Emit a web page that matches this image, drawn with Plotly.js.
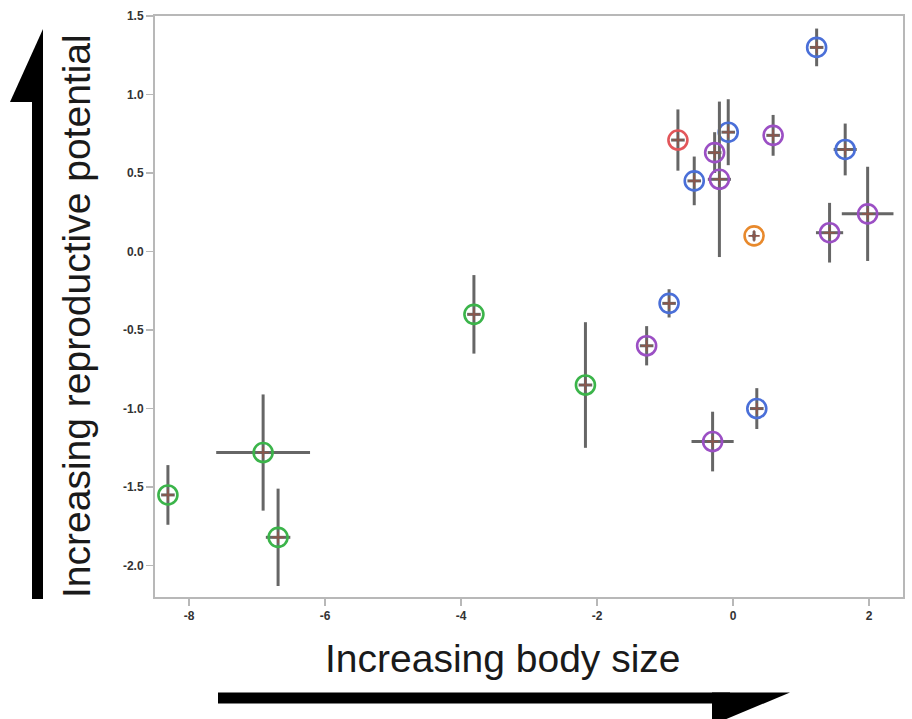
<!DOCTYPE html>
<html>
<head>
<meta charset="utf-8">
<script src="https://cdn.plot.ly/plotly-3.0.1.min.js"></script>
<style>html,body{margin:0;padding:0;background:#fff;}#chart{width:912px;height:719px;}</style>
</head>
<body>
<div id="chart"></div>
<script>
// ---- data ----
var groups = ["green", "blue", "red", "orange", "purple"];
var groupColors = ["#3bb44a", "#4a6fd8", "#e2565a", "#e8892c", "#9b4fc4"];

var pointGroup   = ["green","green","green","green","green",
                    "blue","blue","blue","blue","blue","blue",
                    "red","orange",
                    "purple","purple","purple","purple","purple","purple","purple"];
var bodySize     = [-8.31,-6.91,-6.69,-3.81,-2.17,
                    1.23,-0.07,-0.57,1.65,-0.94,0.35,
                    -0.81,0.31,
                    -0.27,-0.20,0.59,1.42,1.98,-1.27,-0.30];
var reproPotential = [-1.55,-1.28,-1.82,-0.40,-0.85,
                    1.30,0.76,0.45,0.65,-0.33,-1.00,
                    0.71,0.10,
                    0.63,0.46,0.74,0.12,0.24,-0.60,-1.21];
var bodySizeErr  = [0.10,0.69,0.18,0.10,0.10,
                    0.10,0.10,0.10,0.17,0.10,0.10,
                    0.10,0.03,
                    0.10,0.17,0.10,0.20,0.38,0.10,0.31];
var reproErr     = [0.19,0.37,0.31,0.25,0.40,
                    0.12,0.21,0.155,0.165,0.09,0.13,
                    0.195,0.03,
                    0.13,0.495,0.13,0.19,0.30,0.125,0.19];
var xTicks = [-8,-6,-4,-2,0,2];
var yTicks = [-2.0,-1.5,-1.0,-0.5,0.0,0.5,1.0,1.5];

// ---- traces ----
var traces = [];
groups.forEach(function(g, gi){
  var xs=[], ys=[], ex=[], ey=[];
  for (var i=0;i<pointGroup.length;i++){
    if (pointGroup[i]===g){ xs.push(bodySize[i]); ys.push(reproPotential[i]); ex.push(bodySizeErr[i]); ey.push(reproErr[i]); }
  }
  traces.push({
    type:"scatter", mode:"markers", x:xs, y:ys, name:g, showlegend:false,
    error_x:{type:"data", array:ex, visible:true, color:"#666666", thickness:3, width:0},
    error_y:{type:"data", array:ey, visible:true, color:"#666666", thickness:3, width:0},
    marker:{symbol:"circle-open", size:19, color:groupColors[gi], line:{width:2.6, color:groupColors[gi]}}
  });
});
traces.push({
  type:"scatter", mode:"markers", x:bodySize, y:reproPotential, showlegend:false, hoverinfo:"skip",
  marker:{symbol:"cross-thin-open", size:8, line:{width:1.6, color:"#111"}}
});

// ---- layout helpers for decorations (pixel -> paper) ----
var L=155, R=9, T=16, B=122, W=912, H=719;
function px(x){ return (x-L)/(W-L-R); }
function py(y){ return (H-B-y)/(H-T-B); }

var tickFont = {size:12, color:"#333", family:"Arial, Liberation Sans, sans-serif", weight:"bold"};

var layout = {
  width:W, height:H,
  margin:{l:L, r:R, t:T, b:B, pad:0},
  paper_bgcolor:"#fff", plot_bgcolor:"#fff",
  font:{family:"Arial, Liberation Sans, sans-serif", color:"#333"},
  xaxis:{range:[-8.5,2.5], tickvals:xTicks, ticktext:xTicks.map(String),
         showgrid:false, zeroline:false, showline:true, mirror:true,
         linecolor:"#b8b8b8", linewidth:2, ticks:"outside", ticklen:7, tickwidth:1.5, tickcolor:"#b8b8b8",
         tickfont:tickFont},
  yaxis:{range:[-2.2,1.5], tickvals:yTicks, ticktext:yTicks.map(function(v){return v.toFixed(1);}),
         showgrid:false, zeroline:false, showline:true, mirror:true,
         linecolor:"#b8b8b8", linewidth:2, ticks:"outside", ticklen:7, tickwidth:1.5, tickcolor:"#b8b8b8",
         tickfont:tickFont},
  annotations:[
    {text:"Increasing body size", xref:"paper", yref:"paper", x:px(503), y:py(658),
     xanchor:"center", yanchor:"middle", showarrow:false,
     font:{family:"Liberation Sans Narrow, Arial Narrow, Arial, sans-serif", size:39, color:"#1a1a1a"}},
    {text:"Increasing reproductive potential", xref:"paper", yref:"paper", x:px(77), y:py(316),
     xanchor:"center", yanchor:"middle", showarrow:false, textangle:-90,
     font:{family:"Liberation Sans Narrow, Arial Narrow, Arial, sans-serif", size:39, color:"#1a1a1a"}}
  ],
  shapes:[
    // vertical arrow
    {type:"line", xref:"paper", yref:"paper", x0:px(37.5), x1:px(37.5), y0:py(599), y1:py(90),
     line:{color:"#000", width:11}},
    {type:"path", xref:"paper", yref:"paper", fillcolor:"#000", line:{width:0},
     path:"M "+px(43)+" "+py(29)+" L "+px(43)+" "+py(102)+" L "+px(10)+" "+py(102)+" Z"},
    // horizontal arrow
    {type:"line", xref:"paper", yref:"paper", x0:px(218), x1:px(730), y0:py(698), y1:py(698),
     line:{color:"#000", width:11}},
    {type:"path", xref:"paper", yref:"paper", fillcolor:"#000", line:{width:0},
     path:"M "+px(712)+" "+py(692.5)+" L "+px(790)+" "+py(692.5)+" L "+px(712)+" "+py(725)+" Z"}
  ]
};

Plotly.newPlot("chart", traces, layout, {displayModeBar:false, staticPlot:true});
</script>
</body>
</html>
